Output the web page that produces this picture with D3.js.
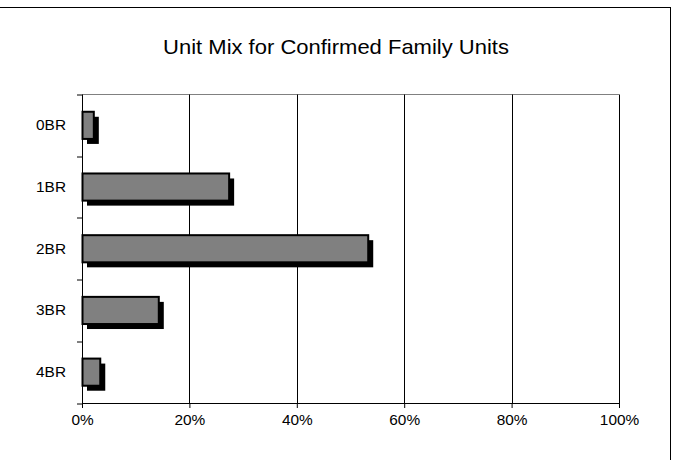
<!DOCTYPE html>
<html>
<head>
<meta charset="utf-8">
<script src="https://cdn.jsdelivr.net/npm/d3@7"></script>
<style>
  html, body { margin: 0; padding: 0; background: #fff; }
  svg { display: block; }
  text { font-family: "Liberation Sans", Arial, sans-serif; fill: #000; }
</style>
</head>
<body>
<svg id="chart" width="673" height="460"></svg>
<script>
// Unit mix shares by bedroom count
const categories = ["0BR", "1BR", "2BR", "3BR", "4BR"];
const shares = [0.022, 0.274, 0.533, 0.143, 0.034];
const xTicks = [0, 0.2, 0.4, 0.6, 0.8, 1.0];
const title = "Unit Mix for Confirmed Family Units";

const svg = d3.select("#chart");
const W = 673, H = 460;
const margin = { left: 82, right: 54, top: 94.5, bottom: 57 };
const plotW = W - margin.left - margin.right;
const plotH = H - margin.top - margin.bottom;
const stretch = 1.1; // slightly wide lettering

// Outer chart frame
svg.append("rect")
  .attr("x", -1).attr("y", 7.5)
  .attr("width", 671.5).attr("height", 460)
  .attr("fill", "#fff").attr("stroke", "#000").attr("stroke-width", 1);

svg.append("text")
  .attr("transform", `translate(336,54) scale(${stretch},1)`)
  .attr("text-anchor", "middle")
  .attr("font-size", 20)
  .text(title);

const g = svg.append("g").attr("transform", `translate(${margin.left},${margin.top})`);

const x = d3.scaleLinear().domain([0, 1]).range([0, plotW]);
const y = d3.scaleBand().domain(categories).range([0, plotH]).paddingInner(0.56).paddingOuter(0.28);

// Plot top border
g.append("line")
  .attr("x1", 0).attr("x2", plotW).attr("y1", 0).attr("y2", 0)
  .attr("stroke", "#808080").attr("stroke-width", 1);

// Vertical gridlines
g.selectAll("line.grid")
  .data(xTicks.filter(t => t > 0))
  .join("line")
  .attr("class", "grid")
  .attr("x1", d => Math.round(x(d)) + 0.5).attr("x2", d => Math.round(x(d)) + 0.5)
  .attr("y1", 0).attr("y2", plotH)
  .attr("stroke", "#000").attr("stroke-width", 1);

// Bar shadows
const off = 5;
g.selectAll("rect.shadow")
  .data(categories)
  .join("rect")
  .attr("class", "shadow")
  .attr("x", off)
  .attr("y", (d) => y(d) + off)
  .attr("width", (d, i) => x(shares[i]))
  .attr("height", y.bandwidth())
  .attr("fill", "#000");

// Bars
g.selectAll("rect.bar")
  .data(categories)
  .join("rect")
  .attr("class", "bar")
  .attr("x", 0.5)
  .attr("y", d => y(d))
  .attr("width", (d, i) => x(shares[i]) - 0.5)
  .attr("height", y.bandwidth())
  .attr("fill", "#808080")
  .attr("stroke", "#000")
  .attr("stroke-width", 2);

// X axis
const xAxis = g.append("g")
  .attr("transform", `translate(0,${plotH})`)
  .call(d3.axisBottom(x).tickValues(xTicks).tickFormat(d3.format(".0%")).tickSizeOuter(0).tickSize(5));
xAxis.select(".domain").attr("stroke", "#000");
xAxis.selectAll(".tick line").attr("stroke", "#000");
xAxis.selectAll(".tick text")
  .attr("y", 0).attr("dy", 0)
  .attr("transform", `translate(0,22) scale(${stretch},1)`)
  .attr("font-size", 14)
  .style("font-family", "'Liberation Sans', Arial, sans-serif");

// Y axis: category labels with ticks between categories
const yAxisG = g.append("g");
yAxisG.append("line")
  .attr("x1", 0.5).attr("x2", 0.5).attr("y1", 0).attr("y2", plotH)
  .attr("stroke", "#000");
const bounds = d3.range(categories.length + 1).map(i => i * plotH / categories.length);
yAxisG.selectAll("line.ytick")
  .data(bounds)
  .join("line")
  .attr("class", "ytick")
  .attr("x1", -5).attr("x2", 0)
  .attr("y1", d => Math.round(d) + 0.5).attr("y2", d => Math.round(d) + 0.5)
  .attr("stroke", "#000");
yAxisG.selectAll("text")
  .data(categories)
  .join("text")
  .attr("transform", d => `translate(-16,${y(d) + y.bandwidth() / 2 + 5}) scale(${stretch},1)`)
  .attr("text-anchor", "end")
  .attr("font-size", 14)
  .text(d => d);
</script>
</body>
</html>
